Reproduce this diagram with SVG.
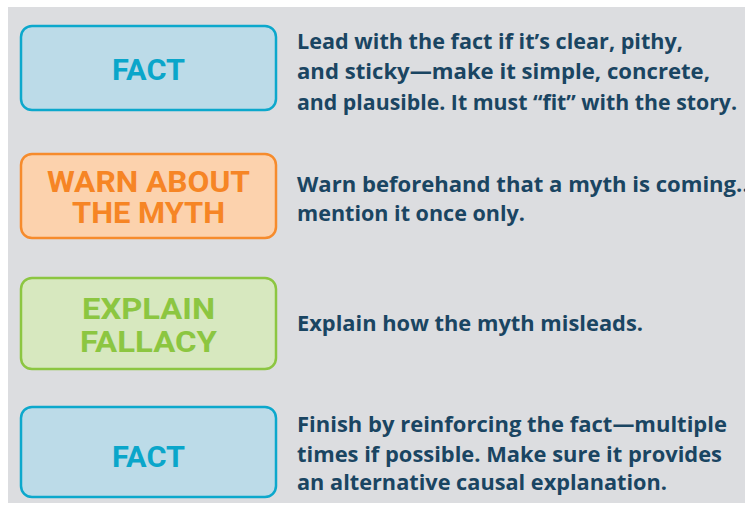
<svg xmlns="http://www.w3.org/2000/svg" width="745" height="506" viewBox="0 0 745 506">
<style>
.box{stroke-width:2.5}
.lbl{font-family:Roboto,"Liberation Sans",Arial,sans-serif;font-weight:700;font-size:30px;text-anchor:middle}
.desc{font-family:"Open Sans","Noto Sans","Liberation Sans",sans-serif;font-weight:700;font-size:21px;fill:#1a4562}
.blue{fill:#bcdbe8;stroke:#0ca8cc}
.orange{fill:#fcd2ad;stroke:#f68b2c}
.green{fill:#d7e8bf;stroke:#8cc641}
.tb{fill:#0aa6ca}
.to{fill:#f68525}
.tg{fill:#8cc641}
</style>
<rect x="0" y="0" width="745" height="506" fill="#ffffff"/>
<rect x="8" y="7" width="737" height="496" fill="#dcdde0"/>
<g id="connectors"></g>
<g id="node-fact1">
<rect class="box blue" x="21" y="26" width="255" height="84" rx="11"/>
<text class="lbl tb" x="148.5" y="80" textLength="73" lengthAdjust="spacingAndGlyphs">FACT</text>
</g>
<g id="desc-fact1">
<text class="desc" x="297" y="49" textLength="386" lengthAdjust="spacingAndGlyphs">Lead with the fact if it’s clear, pithy,</text>
<text class="desc" x="297" y="79" textLength="413" lengthAdjust="spacingAndGlyphs">and sticky—make it simple, concrete,</text>
<text class="desc" x="297" y="110" textLength="440" lengthAdjust="spacingAndGlyphs">and plausible. It must “fit” with the story.</text>
</g>
<g id="node-warn">
<rect class="box orange" x="21" y="154" width="255" height="84" rx="11"/>
<text class="lbl to" x="148.5" y="192" textLength="203" lengthAdjust="spacingAndGlyphs">WARN ABOUT</text>
<text class="lbl to" x="148.5" y="223" textLength="153" lengthAdjust="spacingAndGlyphs">THE MYTH</text>
</g>
<g id="desc-warn">
<text class="desc" x="297" y="192" textLength="458" lengthAdjust="spacingAndGlyphs">Warn beforehand that a myth is coming...</text>
<text class="desc" x="297" y="221" textLength="228" lengthAdjust="spacingAndGlyphs">mention it once only.</text>
</g>
<g id="node-explain">
<rect class="box green" x="21" y="278" width="255" height="91" rx="11"/>
<text class="lbl tg" x="148.5" y="319" textLength="133" lengthAdjust="spacingAndGlyphs">EXPLAIN</text>
<text class="lbl tg" x="148.5" y="352" textLength="137" lengthAdjust="spacingAndGlyphs">FALLACY</text>
</g>
<g id="desc-explain">
<text class="desc" x="297" y="331" textLength="346" lengthAdjust="spacingAndGlyphs">Explain how the myth misleads.</text>
</g>
<g id="node-fact2">
<rect class="box blue" x="21" y="407" width="255" height="90" rx="11"/>
<text class="lbl tb" x="148.5" y="467" textLength="73" lengthAdjust="spacingAndGlyphs">FACT</text>
</g>
<g id="desc-fact2">
<text class="desc" x="297" y="432" textLength="430" lengthAdjust="spacingAndGlyphs">Finish by reinforcing the fact—multiple</text>
<text class="desc" x="297" y="462" textLength="425" lengthAdjust="spacingAndGlyphs">times if possible. Make sure it provides</text>
<text class="desc" x="297" y="490" textLength="370" lengthAdjust="spacingAndGlyphs">an alternative causal explanation.</text>
</g>
</svg>
